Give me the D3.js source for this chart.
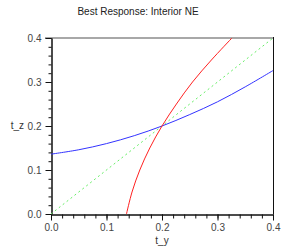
<!DOCTYPE html>
<html>
<head>
<meta charset="utf-8">
<script src="https://cdnjs.cloudflare.com/ajax/libs/d3/7.8.5/d3.min.js"></script>
<style>
  html, body { margin: 0; padding: 0; background: #fff; }
  svg { display: block; font-family: "Liberation Sans", Arial, sans-serif; }
</style>
</head>
<body>
<div id="chart"></div>
<script>
// données
const tGrid   = [0, 0.05, 0.1, 0.15, 0.2, 0.25, 0.3, 0.35, 0.4];
const brZ     = [0.136, 0.146, 0.160, 0.178, 0.200, 0.226, 0.255, 0.289, 0.326]; // t_z(t_y), bleu
const brY     = [0.136, 0.146, 0.160, 0.178, 0.200, 0.226, 0.255, 0.289, 0.326]; // t_y(t_z), rouge
const diag    = [0, 0.4];
const majorTicks = [0, 0.1, 0.2, 0.3, 0.4];
const minorTicks = d3.range(0, 21).map(i => i * 0.02);

const W = 282, H = 247;
const x = d3.scaleLinear().domain([0, 0.4]).range([51, 273]);
const y = d3.scaleLinear().domain([0, 0.4]).range([214, 38]);

const svg = d3.select('#chart').append('svg')
  .attr('width', W).attr('height', H);

// titre
svg.append('text')
  .attr('x', 138).attr('y', 15)
  .attr('text-anchor', 'middle')
  .attr('font-size', 10)
  .attr('fill', '#222')
  .text('Best Response: Interior NE');

// cadre haut (gris) et droit
svg.append('line')
  .attr('x1', x(0) - 6).attr('x2', x(0.4))
  .attr('y1', y(0.4)).attr('y2', y(0.4))
  .attr('stroke', '#a8a8a8').attr('stroke-width', 2);
svg.append('line')
  .attr('x1', x(0.4) + 0.5).attr('x2', x(0.4) + 0.5)
  .attr('y1', y(0.4) - 1).attr('y2', y(0))
  .attr('stroke', '#111').attr('stroke-width', 1);

// axes
function styleAxis(g) {
  g.select('.domain').attr('stroke', '#111');
  g.selectAll('.tick line').attr('stroke', '#111');
  g.selectAll('.tick text')
    .attr('fill', '#444')
    .attr('font-size', 10)
    .attr('font-family', '"Liberation Sans", Arial, sans-serif');
}

svg.append('g')
  .attr('transform', `translate(0,${y(0) + 0.5})`)
  .call(d3.axisBottom(x).tickValues(minorTicks).tickSize(4).tickFormat('').tickSizeOuter(0))
  .call(styleAxis);
svg.append('g')
  .attr('transform', `translate(0,${y(0) + 0.5})`)
  .call(d3.axisBottom(x).tickValues(majorTicks).tickSize(6).tickPadding(3)
    .tickFormat(d3.format('.1f')).tickSizeOuter(0))
  .call(styleAxis);

svg.append('g')
  .attr('transform', `translate(${x(0) + 0.5},0)`)
  .call(d3.axisLeft(y).tickValues(minorTicks).tickSize(3).tickFormat('').tickSizeOuter(0))
  .call(styleAxis);
svg.append('g')
  .attr('transform', `translate(${x(0) + 0.5},0)`)
  .call(d3.axisLeft(y).tickValues(majorTicks).tickSize(6).tickPadding(4)
    .tickFormat(d3.format('.1f')).tickSizeOuter(0))
  .call(styleAxis);

// libellés des axes
svg.append('text')
  .attr('x', x(0.2)).attr('y', 244)
  .attr('text-anchor', 'middle')
  .attr('font-size', 10).attr('fill', '#333')
  .text('t_y');
svg.append('text')
  .attr('x', 24).attr('y', y(0.2) + 3)
  .attr('text-anchor', 'end')
  .attr('font-size', 10).attr('fill', '#333')
  .text('t_z');

// courbes
const plot = svg.append('g');

plot.append('path')
  .datum(diag)
  .attr('d', d3.line().x(d => x(d)).y(d => y(d)))
  .attr('fill', 'none')
  .attr('stroke', '#66ee66')
  .attr('stroke-width', 1)
  .attr('stroke-dasharray', '2,3');

plot.append('path')
  .datum(tGrid.map((t, i) => [t, brZ[i]]))
  .attr('d', d3.line().curve(d3.curveCatmullRom).x(d => x(d[0])).y(d => y(d[1])))
  .attr('fill', 'none')
  .attr('stroke', '#3333ff')
  .attr('stroke-width', 1);

plot.append('path')
  .datum(tGrid.map((t, i) => [brY[i], t]))
  .attr('d', d3.line().curve(d3.curveCatmullRom).x(d => x(d[0])).y(d => y(d[1])))
  .attr('fill', 'none')
  .attr('stroke', '#ff2222')
  .attr('stroke-width', 1);
</script>
</body>
</html>
